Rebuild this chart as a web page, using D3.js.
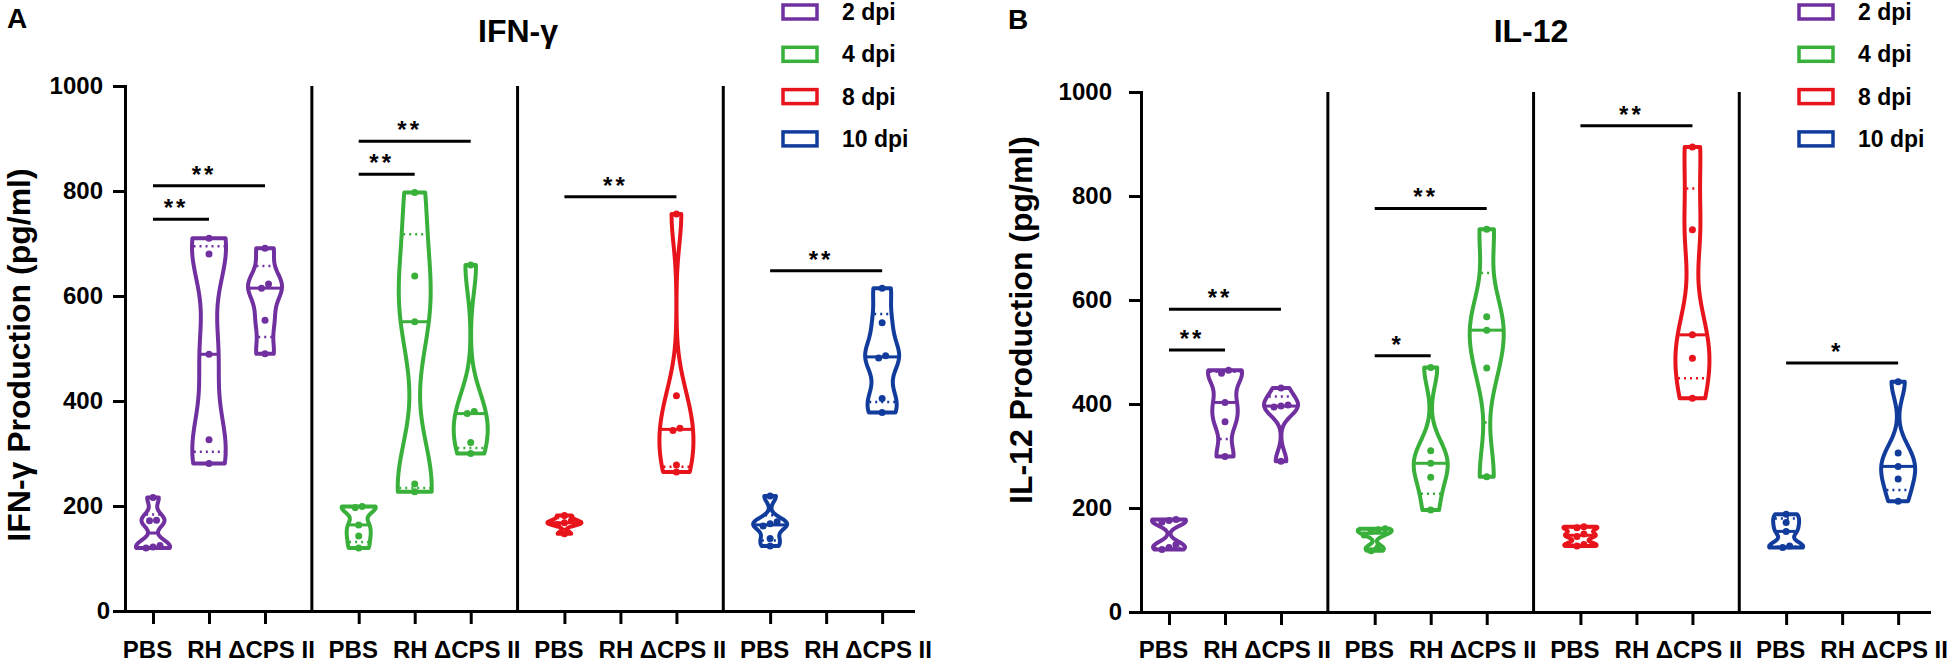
<!DOCTYPE html>
<html>
<head>
<meta charset="utf-8">
<script src="https://cdn.jsdelivr.net/npm/d3@7"></script>
<style>
    body { margin: 0; background: #fff; }
    svg text { font-family: "Liberation Sans", Arial, sans-serif; font-weight: bold; fill: #000; }
</style>
</head>
<body>
<div id="chart"></div>
<script>
// ---- data ----
const days = ["2 dpi", "4 dpi", "8 dpi", "10 dpi"];
const groups = ["PBS", "RH", "\u0394CPS II"];
const dayColors = ["#7030a0", "#38b03a", "#e8141c", "#123c9c"];
const yTicks = [0, 200, 400, 600, 800, 1000];

// IFN-γ (pg/ml), one array per infection group, indexed by day
const ifnPBS = [[216, 173, 172, 125, 122, 120], [199, 197, 164, 143, 120], [182, 172, 168, 165, 147], [219, 170, 166, 162, 138, 124]];
const ifnRH = [[710, 680, 489, 326, 281], [797, 638, 551, 242, 227], [], []];
const ifnCPS = [[691, 623, 615, 554, 490], [659, 380, 376, 321, 300], [756, 410, 348, 344, 278, 265], [615, 549, 486, 482, 405, 378]];

// IL-12 (pg/ml)
const il12PBS = [[178, 176, 173, 130, 124, 120], [160, 158, 155, 148, 125, 118], [164, 162, 150, 145, 130, 127], [188, 172, 155, 127, 124]];
const il12RH = [[465, 459, 403, 366, 299], [470, 310, 286, 259, 196], [], []];
const il12CPS = [[431, 398, 396, 394, 290], [736, 568, 542, 469, 260], [894, 735, 533, 488, 411], [443, 306, 280, 256, 213]];

// significance brackets: day, from group, to group, bar level (pg/ml), mark
const ifnStars = [
    { day: 0, from: 0, to: 1, level: 746, mark: "**" },
    { day: 0, from: 0, to: 2, level: 810, mark: "**" },
    { day: 1, from: 0, to: 1, level: 832, mark: "**" },
    { day: 1, from: 0, to: 2, level: 895, mark: "**" },
    { day: 2, from: 0, to: 2, level: 789, mark: "**" },
    { day: 3, from: 0, to: 2, level: 648, mark: "**" }
];
const il12Stars = [
    { day: 0, from: 0, to: 1, level: 504, mark: "**" },
    { day: 0, from: 0, to: 2, level: 582, mark: "**" },
    { day: 1, from: 0, to: 1, level: 493, mark: "*" },
    { day: 1, from: 0, to: 2, level: 776, mark: "**" },
    { day: 2, from: 0, to: 2, level: 935, mark: "**" },
    { day: 3, from: 0, to: 2, level: 479, mark: "*" }
];

// ---- helpers ----
const GROUP_STEP = 3.673;   // distance between day blocks, in category slots
const HALF_W = 17;          // max half width of a violin
const SMOOTH = 0.55;        // kernel bandwidth factor
const slot = (d, i) => d * GROUP_STEP + i;

// Prism style quantile: rank q*(n+1)
function quantile(sorted, q) {
    const n = sorted.length;
    const r = q * (n + 1);
    if (r <= 1) return sorted[0];
    if (r >= n) return sorted[n - 1];
    const lo = Math.floor(r);
    return sorted[lo - 1] + (r - lo) * (sorted[lo] - sorted[lo - 1]);
}

function bandwidth(sorted) {
    const sd = d3.deviation(sorted);
    const iqr = quantile(sorted, 0.75) - quantile(sorted, 0.25);
    let spread = Math.min(sd, iqr / 1.34);
    if (!(spread > 0)) spread = sd;
    return 0.9 * spread * Math.pow(sorted.length, -0.2) * SMOOTH;
}

class ViolinPanel {

    constructor(svg, config) {
        this.svg = svg;
        this.config = config;
        this.initVis();
    }

    initVis() {
        let vis = this;
        const c = vis.config;

        vis.width = 788;
        vis.g = vis.svg.append("g").attr("transform", `translate(${c.left},0)`);

        vis.x = d3.scaleLinear().domain([-0.5, 13.57]).range([0, vis.width]);
        vis.y = d3.scaleLinear().domain([0, 1000]).range([c.bottom, c.top]);

        // panel letter, title, y title
        vis.svg.append("text")
            .attr("x", c.letterX).attr("y", c.letterY)
            .style("font-size", "28px")
            .text(c.letter);

        vis.svg.append("text")
            .attr("x", c.titleX).attr("y", 42)
            .attr("text-anchor", "middle")
            .style("font-size", "32px")
            .text(c.title);

        vis.svg.append("text")
            .attr("transform", `translate(${c.ylabelX},${c.ylabelY}) rotate(-90)`)
            .attr("text-anchor", "middle")
            .style("font-size", "32px")
            .text(c.yLabel);

        // y axis
        const yAxis = vis.g.append("g")
            .call(d3.axisLeft(vis.y).tickValues(yTicks).tickFormat(d3.format("d"))
                .tickSize(12).tickSizeOuter(0).tickPadding(c.tickPad));
        yAxis.attr("font-family", null).attr("font-size", null);
        yAxis.select(".domain").attr("stroke-width", 3).attr("stroke-linecap", "square");
        yAxis.selectAll(".tick line").attr("stroke-width", 3);
        yAxis.selectAll(".tick text").style("font-size", "24px")
            .attr("dx", d => d === 0 ? c.zeroShift : 0);

        // x axis, one tick per group inside each day block
        const ticks = [];
        days.forEach((_, d) => groups.forEach((_, i) => ticks.push(slot(d, i))));
        const labelShift = [-6, -5, 6];
        const xAxis = vis.g.append("g")
            .attr("transform", `translate(0,${c.bottom})`)
            .call(d3.axisBottom(vis.x).tickValues(ticks).tickSize(13).tickSizeOuter(0)
                .tickFormat((t, k) => groups[k % 3]));
        xAxis.attr("font-family", null).attr("font-size", null);
        xAxis.select(".domain").attr("stroke-width", 3).attr("stroke-linecap", "square");
        xAxis.selectAll(".tick line").attr("stroke-width", 3);
        xAxis.selectAll(".tick text")
            .style("font-size", "24px")
            .attr("y", 658 - c.bottom).attr("dy", 0)
            .attr("dx", (t, k) => labelShift[k % 3]);

        // vertical separators between day blocks
        vis.g.selectAll(".sep")
            .data(days.slice(1).map((_, d) => (slot(d, 2) + slot(d + 1, 0)) / 2))
            .enter().append("line")
            .attr("class", "sep")
            .attr("x1", d => vis.x(d)).attr("x2", d => vis.x(d))
            .attr("y1", vis.y(1000)).attr("y2", vis.y(0))
            .attr("stroke", "#000").attr("stroke-width", 3);

        // legend
        const legend = vis.svg.append("g");
        days.forEach((day, k) => {
            const cy = 12 + k * 42.3;
            legend.append("rect")
                .attr("x", c.legendX).attr("y", cy - 7)
                .attr("width", 34).attr("height", 14)
                .attr("fill", "#fff")
                .attr("stroke", dayColors[k]).attr("stroke-width", 3.5);
            legend.append("text")
                .attr("x", c.legendX + 59).attr("y", cy + 8)
                .style("font-size", "23px")
                .text(day);
        });

        vis.updateVis();
    }

    updateVis() {
        let vis = this;
        const c = vis.config;

        days.forEach((_, d) => {
            c.values.forEach((series, i) => {
                const vals = series[d];
                if (!vals.length) return;
                vis.drawViolin(vals, vis.x(slot(d, i)), dayColors[d]);
            });
        });

        // significance bars
        c.stars.forEach(s => {
            const x1 = vis.x(slot(s.day, s.from));
            const x2 = vis.x(slot(s.day, s.to));
            const yb = vis.y(s.level);
            vis.g.append("line")
                .attr("x1", x1).attr("x2", x2)
                .attr("y1", yb).attr("y2", yb)
                .attr("stroke", "#000").attr("stroke-width", 3);
            vis.g.append("text")
                .attr("x", (x1 + x2) / 2 - 5).attr("y", yb - 3)
                .attr("text-anchor", "middle")
                .style("font-size", "24px")
                .style("letter-spacing", "3px")
                .text(s.mark);
        });
    }

    drawViolin(vals, cx, color) {
        let vis = this;
        const sorted = vals.slice().sort(d3.ascending);
        const h = bandwidth(sorted);
        const dens = v => d3.sum(sorted, s => Math.exp(-0.5 * ((v - s) / h) ** 2));
        const lo = sorted[0], hi = sorted[sorted.length - 1];
        const samples = d3.range(0, 81).map(k => lo + (hi - lo) * k / 80);
        const w = d3.scaleLinear().domain([0, d3.max(samples, dens)]).range([0, HALF_W]);

        const area = d3.area()
            .y(v => vis.y(v))
            .x0(v => cx - w(dens(v)))
            .x1(v => cx + w(dens(v)))
            .curve(d3.curveCatmullRom);

        vis.g.append("path")
            .datum(samples)
            .attr("d", area)
            .attr("fill", "#fff")
            .attr("stroke", color)
            .attr("stroke-width", 4)
            .attr("stroke-linejoin", "round");

        // median (solid) and quartiles (dotted)
        const lines = [
            { v: quantile(sorted, 0.25), dash: "2,4", sw: 2.5 },
            { v: quantile(sorted, 0.75), dash: "2,4", sw: 2.5 },
            { v: d3.median(sorted), dash: null, sw: 3 }
        ];
        lines.forEach(l => {
            const hw = w(dens(l.v)) - 1.5;
            vis.g.append("line")
                .attr("x1", cx - hw).attr("x2", cx + hw)
                .attr("y1", vis.y(l.v)).attr("y2", vis.y(l.v))
                .attr("stroke", color)
                .attr("stroke-width", l.sw)
                .attr("stroke-dasharray", l.dash);
        });

        // points, spread sideways where they overlap
        const pts = sorted.map(v => ({ v: v, py: vis.y(v), dx: 0 }));
        let cluster = [pts[0]];
        const flush = () => {
            cluster.forEach((p, k) => p.dx = (k - (cluster.length - 1) / 2) * 7);
        };
        for (let k = 1; k < pts.length; k++) {
            if (Math.abs(pts[k].py - pts[k - 1].py) < 4.5) {
                cluster.push(pts[k]);
            } else {
                flush();
                cluster = [pts[k]];
            }
        }
        flush();

        vis.g.selectAll(null)
            .data(pts)
            .enter().append("circle")
            .attr("cx", p => cx + p.dx)
            .attr("cy", p => p.py)
            .attr("r", 3.5)
            .attr("fill", color);
    }
}

const svg = d3.select("#chart").append("svg")
    .attr("width", 1955)
    .attr("height", 664);

new ViolinPanel(svg, {
    letter: "A", title: "IFN-\u03b3", yLabel: "IFN-\u03b3 Production (pg/ml)",
    values: [ifnPBS, ifnRH, ifnCPS], stars: ifnStars,
    left: 125, top: 86, bottom: 611,
    titleX: 518, ylabelX: 30, ylabelY: 355, letterX: 7, letterY: 28,
    tickPad: 10, zeroShift: 7, legendX: 783
});

new ViolinPanel(svg, {
    letter: "B", title: "IL-12", yLabel: "IL-12 Production (pg/ml)",
    values: [il12PBS, il12RH, il12CPS], stars: il12Stars,
    left: 1141, top: 92, bottom: 612,
    titleX: 1531, ylabelX: 1032, ylabelY: 320, letterX: 1008, letterY: 29,
    tickPad: 17, zeroShift: 10, legendX: 1799
});
</script>
</body>
</html>
